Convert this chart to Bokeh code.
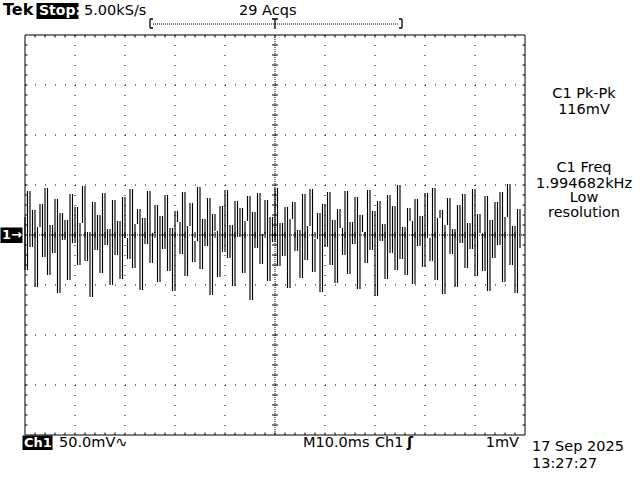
import numpy as np
from bokeh.plotting import figure
from bokeh.models import Label
from bokeh.embed import file_html
from bokeh.resources import INLINE

# ---------------- data ----------------
sample_interval_ms = 0.5
ch1_mv = [
    18, -35, 44, -12, 25, -52, 8, 31, -22, 47,
    -40, 10, -18, 36, -58, 22, -5, 15, -45, 41,
    -8, 28, -30, 12, 49, -26, 3, -62, 33, -15,
    20, -38, 42, -10, 6, -50, 35, -20, 14, -44,
    38, -3, -24, 46, -33, 11, 26, -55, 17, -9,
    44, -28, 2, 30, -47, 19, -14, 40, -36, 7,
    -56, 24, 13, -19, 43, -41, 9, 32, -27, -6,
    48, -34, 16, -11, 37, -60, 21, 4, -42, 29,
    -17, 45, -23, 10, -51, 34, -2, 27, -38, 14,
    39, -65, 23, -13, 42, -29, 1, 35, -46, 18,
    -7, 47, -31, 12, -21, 28, -53, 16, 33, -16,
    5, -43, 41, -25, 9, 46, -37, -4, 22, -57,
    31, -12, 43, -30, 15, -48, 26, 7, -20, 44,
    -39, 13, -9, 38, -54, 20, 3, -28, 45, -15,
    24, -61, 34, -6, 11, -44, 40, -18, 29, -35,
    50, -24, 8, -40, 27, 14, -49, 36, -11, 19,
    -32, 42, -3, -26, 47, -45, 17, 25, -59, 10,
    37, -19, 6, -52, 30, -8, 41, -33, 12, -14,
    46, -41, 21, 2, -36, 39, -56, 15, -23, 33,
    -10, 43, -47, 18, 51, -30, 9, -58, 26, -13,
]
ms_per_div = 10.0
mv_per_div = 50.0
h_divs = 10
v_divs = 8

top_labels = ["5.00kS/s", "29 Acqs"]
meas_labels = ["C1 Pk-Pk", "116mV", "C1 Freq", "1.994682kHz", "Low", "resolution"]
bottom_labels = ["50.0mV\u223f", "M10.0ms", "Ch1", "\u0283", "1mV"]
date_labels = ["17 Sep 2025", "13:27:27"]

# ---------------- figure ----------------
FONT = "DejaVu Sans"
FS = "14.5px"

p = figure(width=640, height=480,
           x_range=(-4.9, 123.1), y_range=(-245.5, 234.5),
           x_axis_type=None, y_axis_type=None, min_border=0,
           toolbar_location=None, output_backend="svg",
           background_fill_color="white", border_fill_color="white")
p.outline_line_color = None
p.grid.visible = False

t_end = h_divs * ms_per_div          # 100 ms
v_top = v_divs / 2 * mv_per_div      # 200 mV

def dx(px):
    return (px - 24) * 0.2

def dy(py):
    return 234 - py

# frame
p.segment(x0=[0, 0, 0, t_end], y0=[v_top, -v_top, -v_top, -v_top],
          x1=[t_end, t_end, 0, t_end], y1=[v_top, -v_top, v_top, v_top],
          line_color="black", line_width=1)

# dotted graticule
gx = [ms_per_div * k for k in range(1, h_divs) if k != h_divs // 2]
gy = [mv_per_div * k for k in range(-v_divs // 2 + 1, v_divs // 2) if k != 0]
p.segment(x0=gx, y0=[v_top] * len(gx), x1=gx, y1=[-v_top] * len(gx),
          line_color="black", line_width=1, line_dash="1 9")
p.segment(x0=[0] * len(gy), y0=gy, x1=[t_end] * len(gy), y1=gy,
          line_color="black", line_width=1, line_dash="1 9")

# center cross
p.segment(x0=[t_end / 2, 0], y0=[v_top, 0], x1=[t_end / 2, t_end], y1=[-v_top, 0],
          line_color="black", line_width=1, line_dash="1 1")
minor_ms = np.arange(ms_per_div / 5, t_end, ms_per_div / 5)
minor_mv = np.arange(-v_top + mv_per_div / 5, v_top, mv_per_div / 5)
p.segment(x0=minor_ms, y0=-3, x1=minor_ms, y1=3, line_color="black")
p.segment(x0=t_end / 2 - 0.6, y0=minor_mv, x1=t_end / 2 + 0.6, y1=minor_mv, line_color="black")

# frame ticks
p.segment(x0=minor_ms, y0=v_top, x1=minor_ms, y1=v_top - 2.5, line_color="black")
p.segment(x0=minor_ms, y0=-v_top, x1=minor_ms, y1=-v_top + 2.5, line_color="black")
p.segment(x0=0, y0=minor_mv, x1=0.5, y1=minor_mv, line_color="black")
p.segment(x0=t_end, y0=minor_mv, x1=t_end - 0.5, y1=minor_mv, line_color="black")

# waveform (vector display: stroke between consecutive samples)
s = np.array(ch1_mv, dtype=float)
t = np.arange(len(s)) * sample_interval_ms
p.segment(x0=t[:-1], y0=s[:-1], x1=t[:-1], y1=s[1:], line_color="black", line_width=1.15)

# trigger position bar
p.segment(x0=dx(152), y0=dy(23), x1=dx(398), y1=dy(23), line_color="black", line_dash="1 1")
p.segment(x0=[dx(149), dx(149), dx(149), dx(401), dx(398), dx(398), dx(271), dx(274)],
          y0=[dy(18), dy(18), dy(27), dy(18), dy(18), dy(27), dy(18), dy(18)],
          x1=[dx(149), dx(152), dx(152), dx(401), dx(401), dx(401), dx(277), dx(274)],
          y1=[dy(27), dy(18), dy(27), dy(27), dy(18), dy(27), dy(18), dy(28)],
          line_color="black", line_width=1.3)

# black boxes
p.quad(left=[dx(35.5), dx(21.5), dx(-1)], right=[dx(77.5), dx(51.5), dx(21.5)],
       top=[dy(2), dy(434.5), dy(226.5)], bottom=[dy(18), dy(449), dy(242)],
       fill_color="black", line_color=None)

def lab(x, y, text, size=FS, color="black", align="left", bold=False):
    p.add_layout(Label(x=x, y=y, text=text, text_font=FONT, text_font_size=size,
                       text_color=color, text_align=align, text_baseline="middle",
                       text_font_style="bold" if bold else "normal"))

# y positions below are (approximately) the vertical centres of the texts in the reference
lab(dx(2), dy(8.5), "Tek", size="16px", bold=True)
lab(dx(38), dy(8.5), "Stop:", size="14px", color="white", bold=True)
lab(dx(83), dy(8.5), top_labels[0])
lab(dx(238), dy(8.5), top_labels[1])

for txt, c in zip(meas_labels, [92, 107.5, 166, 181.5, 196, 210.5]):
    lab(dx(583), dy(c), txt, align="center")

lab(dx(23), dy(441), "Ch1", size="13px", color="white", bold=True)
lab(dx(58), dy(441), bottom_labels[0])
lab(dx(302), dy(441), bottom_labels[1])
lab(dx(374), dy(441), bottom_labels[2])
lab(dx(406), dy(441), bottom_labels[3], bold=True)
lab(dx(518), dy(441), bottom_labels[4], align="right")
lab(dx(531), dy(444.5), date_labels[0])
lab(dx(531), dy(461.5), date_labels[1])

lab(dx(1), dy(233.5), "1\u2192", size="13px", color="white", bold=True)

open("out.html", "w").write(file_html(p, INLINE))
